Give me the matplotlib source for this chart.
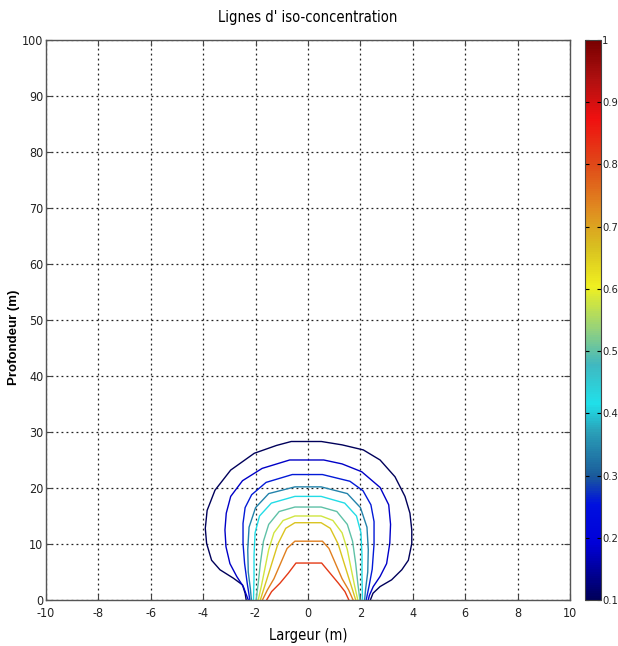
import numpy as np
import matplotlib
matplotlib.use("Agg")
import matplotlib.pyplot as plt
from matplotlib.colors import LinearSegmentedColormap, Normalize
from matplotlib.cm import ScalarMappable

# iso-concentration levels (one line each) and values
levels = [0.1, 0.18, 0.26, 0.34, 0.42, 0.5, 0.58, 0.66, 0.74, 0.82]

iso_x_1 = [-2.36, -2.4, -2.5, -2.85, -3.36, -3.68, -3.87, -3.92, -3.85, -3.55, -2.95, -2.05, -1.2, -0.64,
           0.51, 1.3, 2.11, 2.75, 3.32, 3.70, 3.89, 3.96, 3.96, 3.83, 3.58, 3.19, 2.75, 2.48, 2.38]
iso_y_1 = [0, 1.2, 2.7, 3.9, 5.4, 7.1, 10.1, 12.8, 16.0, 19.6, 23.2, 26.2, 27.6, 28.3,
           28.3, 27.7, 26.8, 25.0, 22.0, 18.5, 15.5, 12.5, 10.1, 7.1, 5.4, 3.6, 2.4, 1.2, 0]

iso_x_2 = [-2.28, -2.47, -2.72, -2.98, -3.13, -3.17, -3.12, -2.95, -2.5, -1.75, -0.7,
           0.6, 1.3, 2.05, 2.75, 3.08, 3.15, 3.12, 3.0, 2.75, 2.49, 2.34, 2.30]
iso_y_2 = [0, 2.4, 4.2, 6.5, 9.5, 12.5, 15.5, 18.5, 21.3, 23.5, 25.0,
           25.0, 24.3, 22.9, 20.1, 17.0, 13.5, 10.1, 6.5, 4.2, 2.4, 0.8, 0]

iso_x_3 = [-2.22, -2.32, -2.42, -2.48, -2.48, -2.4, -2.15, -1.6, -0.6,
           0.55, 1.6, 2.1, 2.4, 2.52, 2.52, 2.45, 2.33, 2.22]
iso_y_3 = [0, 3.0, 6.5, 10.1, 13.7, 16.5, 18.8, 21.0, 22.4,
           22.4, 21.2, 19.5, 17.0, 14.0, 10.0, 5.5, 2.5, 0]

iso_x_4 = [-2.16, -2.2, -2.28, -2.3, -2.25, -2.0, -1.5, -0.5,
           0.5, 1.5, 2.0, 2.25, 2.3, 2.28, 2.2, 2.16]
iso_y_4 = [0, 2.0, 5.0, 9.0, 13.0, 16.5, 19.0, 20.2,
           20.2, 19.0, 16.5, 13.0, 9.0, 5.0, 2.0, 0]

iso_x_5 = [-2.08, -2.06, -2.06, -2.02, -1.85, -1.4, -0.5,
           0.5, 1.4, 1.85, 2.02, 2.06, 2.06, 2.08]
iso_y_5 = [0, 4.0, 8.0, 12.0, 15.0, 17.3, 18.5,
           18.5, 17.3, 15.0, 12.0, 8.0, 4.0, 0]

iso_x_6 = [-1.98, -1.9, -1.82, -1.7, -1.5, -1.1, -0.5,
           0.5, 1.1, 1.5, 1.7, 1.82, 1.9, 1.98]
iso_y_6 = [0, 3.0, 6.5, 10.5, 13.5, 15.8, 16.6,
           16.6, 15.8, 13.5, 10.5, 6.5, 3.0, 0]

iso_x_7 = [-1.9, -1.78, -1.65, -1.5, -1.3, -0.95, -0.5,
           0.5, 0.95, 1.3, 1.5, 1.65, 1.78, 1.9]
iso_y_7 = [0, 2.5, 5.5, 9.0, 12.0, 14.2, 15.0,
           15.0, 14.2, 12.0, 9.0, 5.5, 2.5, 0]

iso_x_8 = [-1.82, -1.7, -1.55, -1.35, -1.15, -0.85, -0.5,
           0.5, 0.85, 1.15, 1.35, 1.55, 1.7, 1.82]
iso_y_8 = [0, 1.8, 4.0, 7.0, 10.0, 12.8, 13.8,
           13.8, 12.8, 10.0, 7.0, 4.0, 1.8, 0]

iso_x_9 = [-1.74, -1.55, -1.3, -1.05, -0.8, -0.5,
           0.55, 0.8, 1.05, 1.3, 1.55, 1.72]
iso_y_9 = [0, 1.8, 3.8, 6.5, 9.2, 10.5,
           10.5, 9.2, 6.5, 3.8, 1.8, 0]

iso_x_10 = [-1.58, -1.39, -1.07, -0.75, -0.46,
            0.52, 0.84, 1.16, 1.41, 1.56]
iso_y_10 = [0, 1.5, 3.0, 4.8, 6.6,
            6.6, 4.8, 3.0, 1.5, 0]

iso_lines = [(iso_x_1, iso_y_1), (iso_x_2, iso_y_2), (iso_x_3, iso_y_3), (iso_x_4, iso_y_4),
             (iso_x_5, iso_y_5), (iso_x_6, iso_y_6), (iso_x_7, iso_y_7), (iso_x_8, iso_y_8),
             (iso_x_9, iso_y_9), (iso_x_10, iso_y_10)]

x_ticks = list(range(-10, 11, 2))
y_ticks = list(range(0, 101, 10))
cbar_ticks = [0.1, 0.2, 0.3, 0.4, 0.5, 0.6, 0.7, 0.8, 0.9, 1]
cbar_labels = ["0.1", "0.2", "0.3", "0.4", "0.5", "0.6", "0.7", "0.8", "0.9", "1"]

# jet-like map as it looks in the picture
cmap = LinearSegmentedColormap.from_list("jetlike", [
    (0.00, "#00005a"), (0.10, "#0000d8"), (0.17, "#0010e0"), (0.22, "#1a5a9a"),
    (0.30, "#2aa0b8"), (0.35, "#20e0ea"), (0.42, "#40b8c0"), (0.48, "#90d080"),
    (0.56, "#f0f020"), (0.63, "#d8c020"), (0.70, "#e08a20"), (0.78, "#e04818"),
    (0.86, "#f01010"), (0.93, "#b01010"), (1.00, "#780000")])
norm = Normalize(vmin=0.1, vmax=1.0)

cond = dict(family="DejaVu Sans", stretch="condensed")
tick_font = dict(cond, fontsize=9, color="#222222")

fig = plt.figure(figsize=(6.18, 6.46), dpi=100)
ax = fig.add_axes([0.0744, 0.0712, 0.848, 0.867])

for lev, (xs, ys) in zip(levels, iso_lines):
    ax.plot(xs, ys, color=cmap(norm(lev)), lw=1.0)

ax.set_xlim(-10, 10)
ax.set_ylim(0, 100)
ax.set_xticks(x_ticks)
ax.set_yticks(y_ticks)
ax.set_xticklabels([str(v) for v in x_ticks], **tick_font)
ax.set_yticklabels([str(v) for v in y_ticks], **tick_font)
ax.tick_params(axis="x", pad=5)
ax.tick_params(direction="in", length=4, width=0.8, top=True, right=True, color="#444444")
ax.tick_params(axis="y", pad=2)
ax.grid(True, color="#222222", linestyle=(0, (1.5, 2.5)), linewidth=0.9)
for s in ax.spines.values():
    s.set_color("#555555")
    s.set_linewidth(1.0)

ax.set_title("Lignes d' iso-concentration", fontsize=10.5, pad=13, **cond)
ax.set_xlabel("Largeur (m)", fontsize=10.5, labelpad=6, **cond)
fig.text(0.023, 0.478, "Profondeur (m)", rotation=90, ha="center", va="center",
         family="Liberation Sans", fontweight="bold", fontsize=9.5)

cax = fig.add_axes([0.947, 0.0712, 0.026, 0.867])
sm = ScalarMappable(norm=norm, cmap=cmap)
cb = fig.colorbar(sm, cax=cax, ticks=cbar_ticks)
cb.ax.set_yticklabels(cbar_labels, **dict(cond, fontsize=8, color="#222222"))
cb.ax.tick_params(direction="in", length=3, width=0.8, left=True, right=True, pad=0.5)
cb.outline.set_edgecolor("#444444")

fig.savefig("out.png", dpi=100)
